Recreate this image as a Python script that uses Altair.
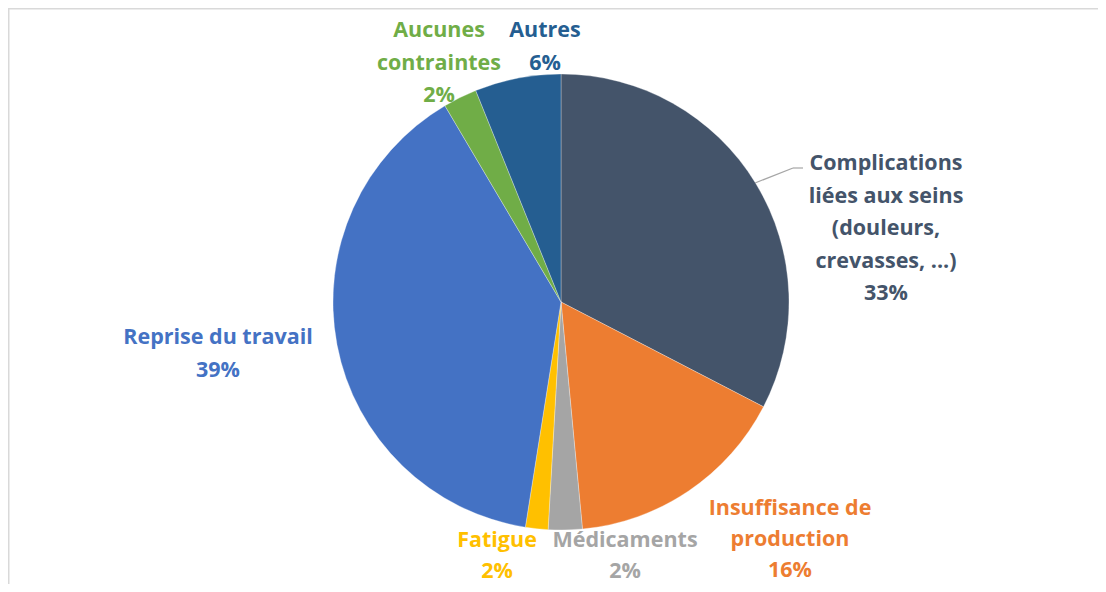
import altair as alt
import pandas as pd

categories = ["Complications", "Insuffisance", "Médicaments", "Fatigue", "Reprise", "Aucunes", "Autres"]
label_names = [
    "Complications\nliées aux seins\n(douleurs,\ncrevasses, ...)",
    "Insuffisance de\nproduction",
    "Médicaments",
    "Fatigue",
    "Reprise du travail",
    "Aucunes\ncontraintes",
    "Autres",
]
values = [32.6, 15.9, 2.4, 1.6, 39.0, 2.4, 6.1]
colors = ["#44546A", "#ED7D31", "#A5A5A5", "#FFC000", "#4472C4", "#70AD47", "#255E91"]

df = pd.DataFrame({
    "category": categories,
    "value": values,
    "order": list(range(len(categories))),
    "label": [f"{n}\n{round(v)}%" for n, v in zip(label_names, values)],
})

W, H = 1090, 576
CX, CY, R = 553, 294, 228
FONT = "Open Sans"

base = alt.Chart(df)

pie = base.mark_arc(radius=R, stroke="white", strokeWidth=0.3).encode(
    theta=alt.Theta("value:Q", stack=True),
    order=alt.Order("order:Q"),
    color=alt.Color("category:N", scale=alt.Scale(domain=categories, range=colors), legend=None),
    x=alt.value(CX),
    y=alt.value(CY),
)

# label placement (layout only): category -> (x center, first baseline, line height)
label_pos = {
    "Complications": (878, 162, 32.5),
    "Insuffisance": (782, 507, 31),
    "Médicaments": (617, 539, 31),
    "Fatigue": (489, 539, 31),
    "Reprise": (210, 336, 32.5),
    "Aucunes": (431, 29, 32.5),
    "Autres": (537, 29, 32.5),
}

layers = [pie]
for cat, col in zip(categories, colors):
    px, py, lh = label_pos[cat]
    layers.append(
        base.transform_filter(alt.datum.category == cat)
        .mark_text(
            font=FONT, fontSize=21.5, fontWeight="bold", color=col,
            align="center", baseline="alphabetic", lineBreak="\n", lineHeight=lh,
        )
        .encode(text="label:N", x=alt.value(px), y=alt.value(py))
    )

leader1 = base.transform_filter(alt.datum.category == "Complications").mark_rule(
    color="#A6A6A6", strokeWidth=1.2
).encode(x=alt.value(747), x2=alt.value(785), y=alt.value(175), y2=alt.value(160))
leader2 = base.transform_filter(alt.datum.category == "Complications").mark_rule(
    color="#A6A6A6", strokeWidth=1.2
).encode(x=alt.value(785), x2=alt.value(795), y=alt.value(160), y2=alt.value(160))

frame_top = base.transform_filter(alt.datum.order == 0).mark_rule(
    color="#D9D9D9", strokeWidth=1.5
).encode(x=alt.value(0), x2=alt.value(W), y=alt.value(0.75), y2=alt.value(0.75))
frame_left = base.transform_filter(alt.datum.order == 0).mark_rule(
    color="#D9D9D9", strokeWidth=1.5
).encode(x=alt.value(0.75), x2=alt.value(0.75), y=alt.value(0), y2=alt.value(H))

chart = alt.layer(frame_top, frame_left, leader1, leader2, *layers).properties(
    width=W, height=H, autosize=alt.AutoSizeParams(type="none"), padding=0,
).configure_view(stroke=None).configure(background="white")

chart.save("out.html", embed_options={"renderer": "svg", "actions": False})
